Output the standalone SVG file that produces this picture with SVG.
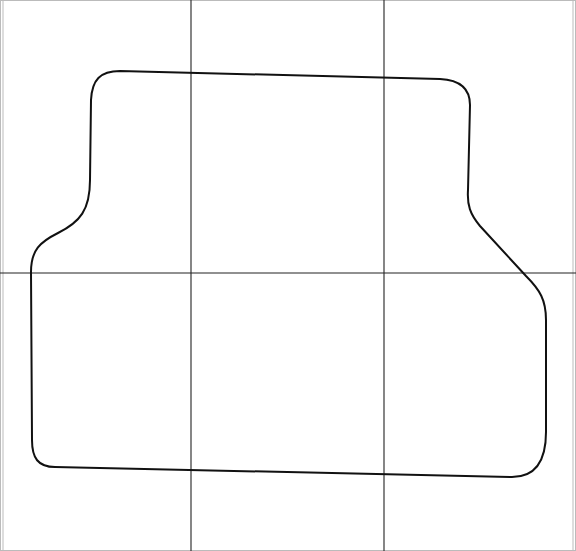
<svg xmlns="http://www.w3.org/2000/svg" width="576" height="551" viewBox="0 0 576 551">
<style>
.grid{stroke:#222;stroke-width:1.1;fill:none}
.frame{stroke:#bbb;stroke-width:1;fill:none}
.shape{stroke:#111;stroke-width:2;fill:none;stroke-linejoin:round}
</style>
<rect x="0" y="0" width="576" height="551" fill="#fff"/>
<rect class="frame" x="0.5" y="0.5" width="575" height="550"/>
<line class="frame" x1="3" y1="0" x2="3" y2="551"/>
<line class="frame" x1="573" y1="0" x2="573" y2="551"/>
<g id="grid">
<line class="grid" x1="191" y1="0" x2="191" y2="551"/>
<line class="grid" x1="384" y1="0" x2="384" y2="551"/>
<line class="grid" x1="0" y1="273" x2="576" y2="273" stroke-width="1.4"/>
</g>
<path id="outline" class="shape" d="M 120 71 L 440 79 C 460 80 470 88 470 105 L 468 190 C 467 205 470 214 480 226 L 526 276 C 540 290 546 300 546 320 L 546 432 C 546 462 535 477 512 477 L 55 467 C 38 467 32 458 32 440 L 31 272 C 31 250 40 242 58 233 C 80 222 90 210 90 180 L 91 100 C 92 80 100 71 120 71 Z"/>
</svg>
